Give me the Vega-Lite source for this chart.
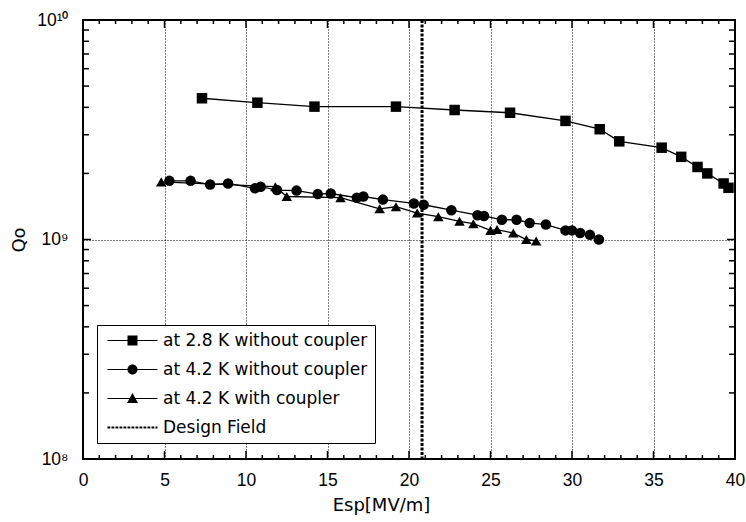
{
  "$schema": "https://vega.github.io/schema/vega-lite/v6.json",
  "width": 652,
  "height": 439,
  "autosize": {"type": "none"},
  "padding": {"left": 83, "top": 20, "right": 11, "bottom": 63},
  "background": "white",
  "config": {
    "font": "Liberation Sans",
    "view": {"stroke": "black", "strokeWidth": 2},
    "axis": {
      "domain": false,
      "ticks": false,
      "tickSize": 0,
      "labelColor": "black",
      "titleColor": "black",
      "labelFont": "Liberation Sans",
      "titleFont": "DejaVu Sans",
      "labelFontSize": 17.5,
      "titleFontSize": 18,
      "titleFontWeight": "normal",
      "labelFlush": false,
      "labelOverlap": false,
      "gridColor": "black",
      "gridDash": [1, 2],
      "gridWidth": 1
    }
  },
  "datasets": {
    "qo": [
      {"series": "at 2.8 K without coupler", "esp": 7.3, "q0": 4.4e9},
      {"series": "at 2.8 K without coupler", "esp": 10.7, "q0": 4.2e9},
      {"series": "at 2.8 K without coupler", "esp": 14.2, "q0": 4.03e9},
      {"series": "at 2.8 K without coupler", "esp": 19.2, "q0": 4.03e9},
      {"series": "at 2.8 K without coupler", "esp": 22.8, "q0": 3.89e9},
      {"series": "at 2.8 K without coupler", "esp": 26.2, "q0": 3.78e9},
      {"series": "at 2.8 K without coupler", "esp": 29.6, "q0": 3.47e9},
      {"series": "at 2.8 K without coupler", "esp": 31.7, "q0": 3.18e9},
      {"series": "at 2.8 K without coupler", "esp": 32.9, "q0": 2.8e9},
      {"series": "at 2.8 K without coupler", "esp": 35.5, "q0": 2.62e9},
      {"series": "at 2.8 K without coupler", "esp": 36.7, "q0": 2.38e9},
      {"series": "at 2.8 K without coupler", "esp": 37.7, "q0": 2.14e9},
      {"series": "at 2.8 K without coupler", "esp": 38.3, "q0": 2.0e9},
      {"series": "at 2.8 K without coupler", "esp": 39.3, "q0": 1.8e9},
      {"series": "at 2.8 K without coupler", "esp": 39.6, "q0": 1.72e9},
      {"series": "at 4.2 K without coupler", "esp": 5.3, "q0": 1.85e9},
      {"series": "at 4.2 K without coupler", "esp": 6.6, "q0": 1.85e9},
      {"series": "at 4.2 K without coupler", "esp": 7.8, "q0": 1.78e9},
      {"series": "at 4.2 K without coupler", "esp": 8.9, "q0": 1.8e9},
      {"series": "at 4.2 K without coupler", "esp": 10.55, "q0": 1.71e9},
      {"series": "at 4.2 K without coupler", "esp": 10.9, "q0": 1.74e9},
      {"series": "at 4.2 K without coupler", "esp": 11.9, "q0": 1.68e9},
      {"series": "at 4.2 K without coupler", "esp": 13.1, "q0": 1.67e9},
      {"series": "at 4.2 K without coupler", "esp": 14.4, "q0": 1.61e9},
      {"series": "at 4.2 K without coupler", "esp": 15.2, "q0": 1.62e9},
      {"series": "at 4.2 K without coupler", "esp": 16.8, "q0": 1.55e9},
      {"series": "at 4.2 K without coupler", "esp": 17.2, "q0": 1.57e9},
      {"series": "at 4.2 K without coupler", "esp": 18.4, "q0": 1.52e9},
      {"series": "at 4.2 K without coupler", "esp": 20.3, "q0": 1.46e9},
      {"series": "at 4.2 K without coupler", "esp": 20.9, "q0": 1.44e9},
      {"series": "at 4.2 K without coupler", "esp": 22.6, "q0": 1.36e9},
      {"series": "at 4.2 K without coupler", "esp": 24.2, "q0": 1.29e9},
      {"series": "at 4.2 K without coupler", "esp": 24.6, "q0": 1.28e9},
      {"series": "at 4.2 K without coupler", "esp": 25.7, "q0": 1.23e9},
      {"series": "at 4.2 K without coupler", "esp": 26.6, "q0": 1.23e9},
      {"series": "at 4.2 K without coupler", "esp": 27.4, "q0": 1.19e9},
      {"series": "at 4.2 K without coupler", "esp": 28.4, "q0": 1.17e9},
      {"series": "at 4.2 K without coupler", "esp": 29.6, "q0": 1.1e9},
      {"series": "at 4.2 K without coupler", "esp": 30.0, "q0": 1.1e9},
      {"series": "at 4.2 K without coupler", "esp": 30.5, "q0": 1.07e9},
      {"series": "at 4.2 K without coupler", "esp": 31.1, "q0": 1.05e9},
      {"series": "at 4.2 K without coupler", "esp": 31.65, "q0": 1.0e9},
      {"series": "at 4.2 K with coupler", "esp": 4.8, "q0": 1.83e9},
      {"series": "at 4.2 K with coupler", "esp": 11.8, "q0": 1.74e9},
      {"series": "at 4.2 K with coupler", "esp": 12.5, "q0": 1.57e9},
      {"series": "at 4.2 K with coupler", "esp": 15.8, "q0": 1.55e9},
      {"series": "at 4.2 K with coupler", "esp": 18.2, "q0": 1.38e9},
      {"series": "at 4.2 K with coupler", "esp": 19.2, "q0": 1.41e9},
      {"series": "at 4.2 K with coupler", "esp": 20.5, "q0": 1.32e9},
      {"series": "at 4.2 K with coupler", "esp": 21.8, "q0": 1.27e9},
      {"series": "at 4.2 K with coupler", "esp": 23.1, "q0": 1.21e9},
      {"series": "at 4.2 K with coupler", "esp": 23.95, "q0": 1.18e9},
      {"series": "at 4.2 K with coupler", "esp": 25.0, "q0": 1.1e9},
      {"series": "at 4.2 K with coupler", "esp": 25.4, "q0": 1.11e9},
      {"series": "at 4.2 K with coupler", "esp": 26.4, "q0": 1.07e9},
      {"series": "at 4.2 K with coupler", "esp": 27.2, "q0": 1.0e9},
      {"series": "at 4.2 K with coupler", "esp": 27.8, "q0": 0.985e9}
    ],
    "design": [{"series": "Design Field", "esp": 20.8}],
    "xmajor": [{"v": 5}, {"v": 10}, {"v": 15}, {"v": 20}, {"v": 25}, {"v": 30}, {"v": 35}],
    "xminor": [
      {"v": 1}, {"v": 2}, {"v": 3}, {"v": 4}, {"v": 6}, {"v": 7}, {"v": 8}, {"v": 9},
      {"v": 11}, {"v": 12}, {"v": 13}, {"v": 14}, {"v": 16}, {"v": 17}, {"v": 18}, {"v": 19},
      {"v": 21}, {"v": 22}, {"v": 23}, {"v": 24}, {"v": 26}, {"v": 27}, {"v": 28}, {"v": 29},
      {"v": 31}, {"v": 32}, {"v": 33}, {"v": 34}, {"v": 36}, {"v": 37}, {"v": 38}, {"v": 39}
    ],
    "ymajor": [{"v": 1e9}],
    "yminor": [
      {"v": 2e8}, {"v": 3e8}, {"v": 4e8}, {"v": 5e8}, {"v": 6e8}, {"v": 7e8}, {"v": 8e8}, {"v": 9e8},
      {"v": 2e9}, {"v": 3e9}, {"v": 4e9}, {"v": 5e9}, {"v": 6e9}, {"v": 7e9}, {"v": 8e9}, {"v": 9e9}
    ]
  },
  "resolve": {
    "axis": {"x": "independent", "y": "independent"},
    "scale": {"shape": "independent"}
  },
  "layer": [
    {
      "description": "Measured curves; carries the labelled bottom and left axes.",
      "data": {"name": "qo"},
      "mark": {"type": "line", "color": "black", "strokeWidth": 1.3},
      "encoding": {
        "x": {
          "field": "esp",
          "type": "quantitative",
          "scale": {"domain": [0, 40], "nice": false, "zero": false},
          "axis": {
            "orient": "bottom",
            "title": "Esp[MV/m]",
            "titleX": 298,
            "titleAlign": "center",
            "titlePadding": 8,
            "values": [0, 5, 10, 15, 20, 25, 30, 35, 40],
            "labelPadding": 12,
            "grid": false
          }
        },
        "y": {
          "field": "q0",
          "type": "quantitative",
          "scale": {"type": "log", "domain": [1e8, 1e10], "nice": false},
          "axis": {
            "orient": "left",
            "title": "Qo",
            "titlePadding": 8,
            "values": [1e8, 1e9, 1e10],
            "labelExpr": "datum.value == 1e8 ? '10⁸' : datum.value == 1e9 ? '10⁹' : '10¹⁰'",
            "labelPadding": 15,
            "grid": false
          }
        },
        "detail": {"field": "series"}
      }
    },
    {
      "description": "Measured points.",
      "data": {"name": "qo"},
      "mark": {"type": "point", "filled": true, "color": "black", "opacity": 1, "size": 110},
      "encoding": {
        "x": {"field": "esp", "type": "quantitative", "axis": null},
        "y": {"field": "q0", "type": "quantitative", "axis": null},
        "shape": {
          "field": "series",
          "type": "nominal",
          "scale": {
            "domain": ["at 2.8 K without coupler", "at 4.2 K without coupler", "at 4.2 K with coupler"],
            "range": ["square", "circle", "triangle-up"]
          },
          "legend": null
        }
      }
    },
    {
      "description": "Design field marker; carries the vertical dotted grid.",
      "data": {"name": "design"},
      "mark": {"type": "rule", "color": "black", "strokeWidth": 3, "strokeDash": [3, 1.5]},
      "encoding": {
        "x": {
          "field": "esp",
          "type": "quantitative",
          "axis": {
            "orient": "bottom",
            "title": null,
            "labels": false,
            "values": [5, 10, 15, 20, 25, 30, 35],
            "grid": true,
            "zindex": 0
          }
        }
      }
    },
    {
      "description": "Key: line-and-marker glyphs for each series plus the dashed design-field line; draws no marks in the plot.",
      "data": {"name": "qo"},
      "transform": [{"filter": "false"}],
      "mark": {"type": "point", "filled": true, "color": "black", "opacity": 1, "size": 100},
      "encoding": {
        "x": {"field": "esp", "type": "quantitative", "axis": null},
        "y": {"field": "q0", "type": "quantitative", "axis": null},
        "shape": {
          "field": "series",
          "type": "nominal",
          "scale": {
            "domain": ["at 2.8 K without coupler", "at 4.2 K without coupler", "at 4.2 K with coupler", "Design Field"],
            "range": [
              "M-1,-0.12H9V0.12H-1ZM3,-1H5V1H3Z",
              "M-1,-0.12H9V0.12H-1ZM5,0A1,1,0,1,1,3,0A1,1,0,1,1,5,0Z",
              "M-1,-0.12H9V0.12H-1ZM4,-1.1L5.1,0.9H2.9Z",
              "M-1,-0.2h0.56v0.4h-0.56ZM-0.2,-0.2h0.56v0.4h-0.56ZM0.6,-0.2h0.56v0.4h-0.56ZM1.4,-0.2h0.56v0.4h-0.56ZM2.2,-0.2h0.56v0.4h-0.56ZM3,-0.2h0.56v0.4h-0.56ZM3.8,-0.2h0.56v0.4h-0.56ZM4.6,-0.2h0.56v0.4h-0.56ZM5.4,-0.2h0.56v0.4h-0.56ZM6.2,-0.2h0.56v0.4h-0.56ZM7,-0.2h0.56v0.4h-0.56ZM7.8,-0.2h0.56v0.4h-0.56ZM8.6,-0.2h0.4v0.4h-0.4Z"
            ]
          },
          "legend": {
            "orient": "none",
            "legendX": 14,
            "legendY": 305,
            "title": null,
            "padding": 7,
            "strokeColor": "black",
            "fillColor": "white",
            "labelFont": "DejaVu Sans",
            "labelFontSize": 17,
            "labelColor": "black",
            "labelLimit": 0,
            "labelOffset": 42,
            "symbolSize": 100,
            "symbolFillColor": "black",
            "rowPadding": 11
          }
        }
      }
    },
    {
      "description": "Horizontal dotted grid line at 10^9.",
      "data": {"name": "qo"},
      "transform": [{"filter": "false"}],
      "mark": {"type": "point", "opacity": 0},
      "encoding": {
        "y": {
          "field": "q0",
          "type": "quantitative",
          "axis": {
            "orient": "left",
            "title": null,
            "labels": false,
            "values": [1e9],
            "grid": true,
            "zindex": 0
          }
        }
      }
    },
    {
      "description": "Bottom edge, major inward ticks.",
      "data": {"name": "xmajor"},
      "mark": {"type": "rule", "color": "black", "strokeWidth": 1.5, "y": {"expr": "height - 8"}, "y2": {"expr": "height"}},
      "encoding": {"x": {"field": "v", "type": "quantitative", "axis": null}}
    },
    {
      "description": "Bottom edge, minor inward ticks.",
      "data": {"name": "xminor"},
      "mark": {"type": "rule", "color": "black", "strokeWidth": 1.5, "y": {"expr": "height - 4"}, "y2": {"expr": "height"}},
      "encoding": {"x": {"field": "v", "type": "quantitative", "axis": null}}
    },
    {
      "description": "Top edge, major inward ticks.",
      "data": {"name": "xmajor"},
      "mark": {"type": "rule", "color": "black", "strokeWidth": 1.5, "y": 0, "y2": 8},
      "encoding": {"x": {"field": "v", "type": "quantitative", "axis": null}}
    },
    {
      "description": "Top edge, minor inward ticks.",
      "data": {"name": "xminor"},
      "mark": {"type": "rule", "color": "black", "strokeWidth": 1.5, "y": 0, "y2": 4},
      "encoding": {"x": {"field": "v", "type": "quantitative", "axis": null}}
    },
    {
      "description": "Left edge, major inward ticks.",
      "data": {"name": "ymajor"},
      "mark": {"type": "rule", "color": "black", "strokeWidth": 1.5, "x": 0, "x2": 8},
      "encoding": {"y": {"field": "v", "type": "quantitative", "axis": null}}
    },
    {
      "description": "Left edge, minor inward ticks.",
      "data": {"name": "yminor"},
      "mark": {"type": "rule", "color": "black", "strokeWidth": 1.5, "x": 0, "x2": 6},
      "encoding": {"y": {"field": "v", "type": "quantitative", "axis": null}}
    },
    {
      "description": "Right edge, major inward ticks.",
      "data": {"name": "ymajor"},
      "mark": {"type": "rule", "color": "black", "strokeWidth": 1.5, "x": {"expr": "width - 8"}, "x2": {"expr": "width"}},
      "encoding": {"y": {"field": "v", "type": "quantitative", "axis": null}}
    },
    {
      "description": "Right edge, minor inward ticks.",
      "data": {"name": "yminor"},
      "mark": {"type": "rule", "color": "black", "strokeWidth": 1.5, "x": {"expr": "width - 6"}, "x2": {"expr": "width"}},
      "encoding": {"y": {"field": "v", "type": "quantitative", "axis": null}}
    }
  ]
}
